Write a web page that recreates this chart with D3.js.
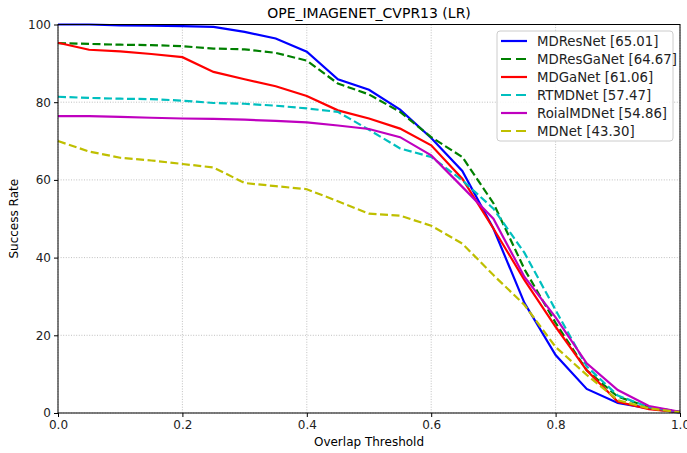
<!DOCTYPE html>
<html>
<head>
<meta charset="utf-8">
<script src="https://cdn.jsdelivr.net/npm/d3@7"></script>
<style>
  body { margin: 0; background: #fff; }
  text { font-family: "DejaVu Sans", sans-serif; }
</style>
</head>
<body>
<div id="chart"></div>
<script>
// data
const thresholds = d3.range(0, 21).map(i => i / 20);
const mdResNet    = [100, 100, 99.8, 99.7, 99.6, 99.4, 98.1, 96.4, 93.0, 85.9, 83.2, 78.1, 70.8, 62.3, 47.5, 28.3, 14.9, 6.2, 2.6, 1.2, 0.1];
const mdResGaNet  = [95.2, 95.0, 94.8, 94.7, 94.4, 93.8, 93.6, 92.7, 90.7, 84.8, 82.0, 77.5, 71.0, 65.9, 54.0, 37.0, 23.2, 11.0, 4.2, 1.5, 0.3];
const mdGaNet     = [95.3, 93.5, 93.1, 92.4, 91.6, 87.8, 85.9, 84.1, 81.6, 77.9, 75.8, 73.2, 68.9, 60.3, 47.5, 34.2, 22.2, 11.0, 2.9, 1.0, 0.2];
const rtmdNet     = [81.4, 81.1, 80.9, 80.8, 80.4, 79.8, 79.6, 79.1, 78.4, 77.5, 72.9, 68.1, 65.9, 59.9, 52.6, 41.2, 26.5, 12.0, 4.5, 1.5, 0.2];
const roialMdNet  = [76.4, 76.4, 76.2, 76.0, 75.8, 75.7, 75.5, 75.2, 74.8, 74.0, 73.1, 71.0, 66.3, 58.2, 50.0, 35.0, 24.6, 12.8, 5.9, 1.8, 0.3];
const mdNet       = [70.0, 67.3, 65.7, 65.0, 64.1, 63.2, 59.2, 58.4, 57.6, 54.5, 51.3, 50.8, 48.2, 43.6, 35.5, 27.8, 17.0, 9.8, 3.3, 1.2, 0.2];

const seriesNames = ["MDResNet [65.01]", "MDResGaNet [64.67]", "MDGaNet [61.06]", "RTMDNet [57.47]", "RoialMDNet [54.86]", "MDNet [43.30]"];
const seriesVals  = [mdResNet, mdResGaNet, mdGaNet, rtmdNet, roialMdNet, mdNet];
const seriesColors = ["#0000ff", "#008000", "#ff0000", "#00bfbf", "#bf00bf", "#bfbf00"];
const seriesDashed = [false, true, false, true, false, true];

const xTicks = [0, 0.2, 0.4, 0.6, 0.8, 1.0];
const yTicks = [0, 20, 40, 60, 80, 100];

const W = 687, H = 453;
const m = { top: 24.5, right: 7, bottom: 40, left: 58 };
const innerW = W - m.left - m.right, innerH = H - m.top - m.bottom;

const svg = d3.select("#chart").append("svg").attr("width", W).attr("height", H);
const g = svg.append("g").attr("transform", `translate(${m.left},${m.top})`);

const x = d3.scaleLinear().domain([0, 1]).range([0, innerW]);
const y = d3.scaleLinear().domain([0, 100]).range([innerH, 0]);

// grid
g.append("g").selectAll("line.gx").data(xTicks).join("line")
  .attr("x1", d => x(d)).attr("x2", d => x(d)).attr("y1", 0).attr("y2", innerH)
  .attr("stroke", "#b0b0b0").attr("stroke-width", 0.8).attr("stroke-dasharray", "1,1.6");
g.append("g").selectAll("line.gy").data(yTicks).join("line")
  .attr("x1", 0).attr("x2", innerW).attr("y1", d => y(d)).attr("y2", d => y(d))
  .attr("stroke", "#b0b0b0").attr("stroke-width", 0.8).attr("stroke-dasharray", "1,1.6");

// lines
const line = d3.line().x((d, i) => x(thresholds[i])).y(d => y(d));
seriesVals.forEach((vals, k) => {
  g.append("path").datum(vals)
    .attr("fill", "none")
    .attr("stroke", seriesColors[k])
    .attr("stroke-width", 2.2)
    .attr("stroke-dasharray", seriesDashed[k] ? "8,3.5" : null)
    .attr("d", line);
});

// axes
const xAxis = g.append("g").attr("transform", `translate(0,${innerH})`)
  .call(d3.axisBottom(x).tickValues(xTicks).tickFormat(d3.format(".1f")).tickSize(4).tickPadding(3));
const yAxis = g.append("g")
  .call(d3.axisLeft(y).tickValues(yTicks).tickSize(4).tickPadding(3));
[xAxis, yAxis].forEach(a => {
  a.select(".domain").remove();
  a.selectAll("text").style("font-size", "12px").style("font-family", "DejaVu Sans").attr("fill", "#222");
  a.selectAll("line").attr("stroke", "#000");
});

// frame
g.append("rect").attr("width", innerW).attr("height", innerH)
  .attr("fill", "none").attr("stroke", "#000").attr("stroke-width", 1);

// labels
svg.append("text").attr("x", m.left + innerW / 2).attr("y", 18)
  .attr("text-anchor", "middle").style("font-size", "14px").text("OPE_IMAGENET_CVPR13 (LR)");
svg.append("text").attr("x", m.left + innerW / 2).attr("y", 446)
  .attr("text-anchor", "middle").style("font-size", "12px").text("Overlap Threshold");
svg.append("text").attr("transform", `translate(18,${m.top + innerH / 2}) rotate(-90)`)
  .attr("text-anchor", "middle").style("font-size", "12px").text("Success Rate");

// legend
const lg = g.append("g").attr("transform", `translate(${x(1) - 183},${6.5})`);
lg.append("rect").attr("width", 176).attr("height", 110).attr("rx", 3)
  .attr("fill", "#fff").attr("fill-opacity", 0.85).attr("stroke", "#ccc");
seriesNames.forEach((name, k) => {
  const yy = 10 + k * 18;
  lg.append("line").attr("x1", 4).attr("x2", 30).attr("y1", yy).attr("y2", yy)
    .attr("stroke", seriesColors[k]).attr("stroke-width", 2.2)
    .attr("stroke-dasharray", seriesDashed[k] ? "10,5" : null);
  lg.append("text").attr("x", 40).attr("y", yy).attr("dy", "0.36em")
    .style("font-size", "13.3px").attr("fill", "#222").text(name);
});
</script>
</body>
</html>
